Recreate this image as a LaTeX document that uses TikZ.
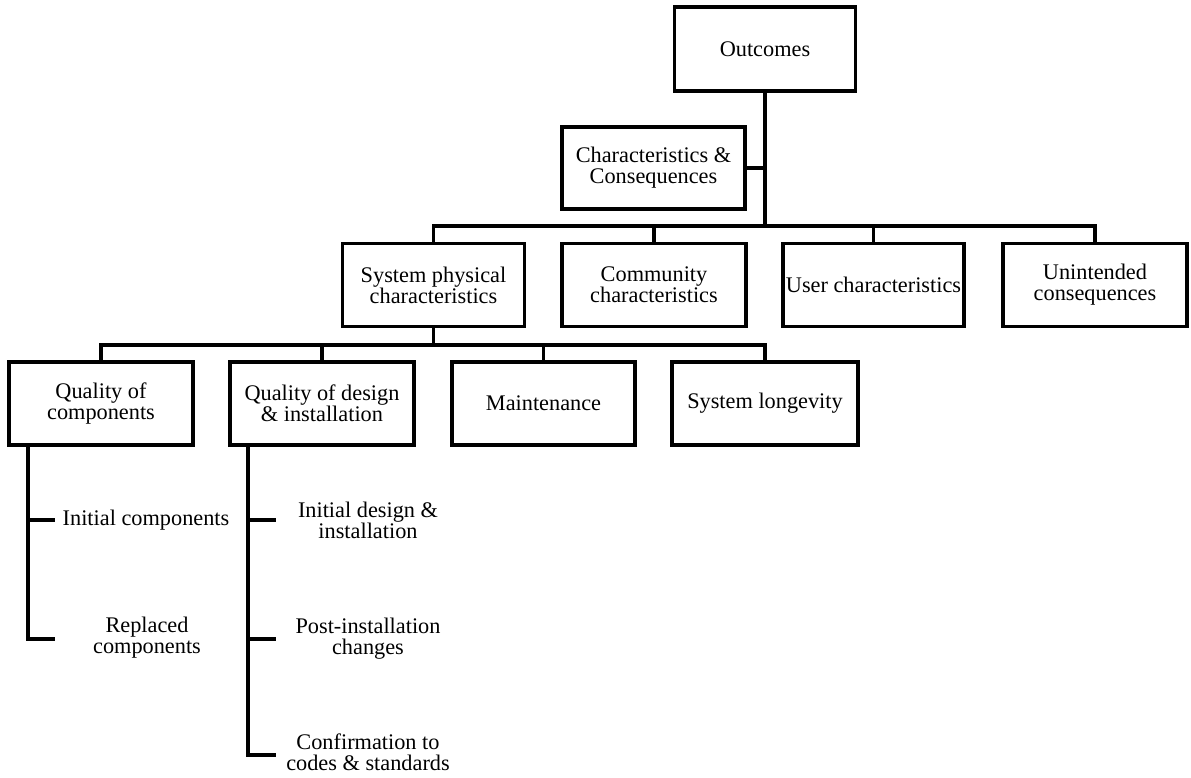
\documentclass[tikz,border=0pt]{standalone}
\usepackage{fontspec}
\setmainfont{Liberation Serif}
\begin{document}
\begin{tikzpicture}[x=1pt,y=-1pt,
  every node/.style={font=\fontsize{22.3}{20.8}\selectfont, align=center},
  box/.style={draw, line width=3.2pt, inner sep=0pt, minimum height=83pt},
  conn/.style={line width=3.2pt},
  leaf/.style={inner sep=0pt}]
\useasboundingbox (0,0) rectangle (1191,778);

% boxes
\node[box, minimum width=181pt, minimum height=84pt] (out) at (765,49) {Outcomes};
\node[box, minimum width=183pt, minimum height=82pt] (cc) at (653.5,168) {Characteristics \&\\Consequences};
\node[box, minimum width=182pt] (sp) at (433.5,285) {System physical\\characteristics};
\node[box, minimum width=184pt] (com) at (654,285) {Community\\characteristics};
\node[box, minimum width=181pt] (usr) at (873.5,285) {User characteristics};
\node[box, minimum width=184pt] (un) at (1095,285) {Unintended\\consequences};
\node[box, minimum width=184pt] (qc) at (101,403.5) {Quality of\\components};
\node[box, minimum width=184pt] (qd) at (322,403.5) {Quality of design\\\& installation};
\node[box, minimum width=183pt] (mt) at (543.5,403.5) {Maintenance};
\node[box, minimum width=186pt] (sl) at (765,403.5) {System longevity};

% leaves
\node[leaf] (ic) at (146,520) {Initial components};
\node[leaf] (rc) at (147,638) {Replaced\\components};
\node[leaf] (id) at (368,520) {Initial design \&\\installation};
\node[leaf] (pi) at (368,639) {Post-installation\\changes};
\node[leaf] (cf) at (368,752) {Confirmation to\\codes \& standards};

% bus coordinates
\coordinate (b1) at (765,226);
\coordinate (b2) at (434,345);

% top level
\draw[conn] (out.south) -- (b1);
\draw[conn] (cc.east) -- (cc.east -| out.south);
\draw[conn] (sp.north) |- (un.north |- b1) -- (un.north);
\draw[conn] (com.north) -- (com.north |- b1);
\draw[conn] (usr.north) -- (usr.north |- b1);

% second level
\draw[conn] (sp.south) -- (sp.south |- b2);
\draw[conn] (qc.north) |- (sl.north |- b2) -- (sl.north);
\draw[conn] (qd.north) -- (qd.north |- b2);
\draw[conn] (mt.north) -- (mt.north |- b2);

% leaf spines
\coordinate (qcs) at (28,445);
\coordinate (qct1) at (55,520);
\coordinate (qct2) at (55,639);
\draw[conn] (qcs) |- (qct2);
\draw[conn] (qcs |- qct1) -- (qct1);

\coordinate (qds) at (248,445);
\coordinate (qdt1) at (276,520);
\coordinate (qdt2) at (276,639);
\coordinate (qdt3) at (276,755);
\draw[conn] (qds) |- (qdt3);
\draw[conn] (qds |- qdt1) -- (qdt1);
\draw[conn] (qds |- qdt2) -- (qdt2);
\end{tikzpicture}
\end{document}
